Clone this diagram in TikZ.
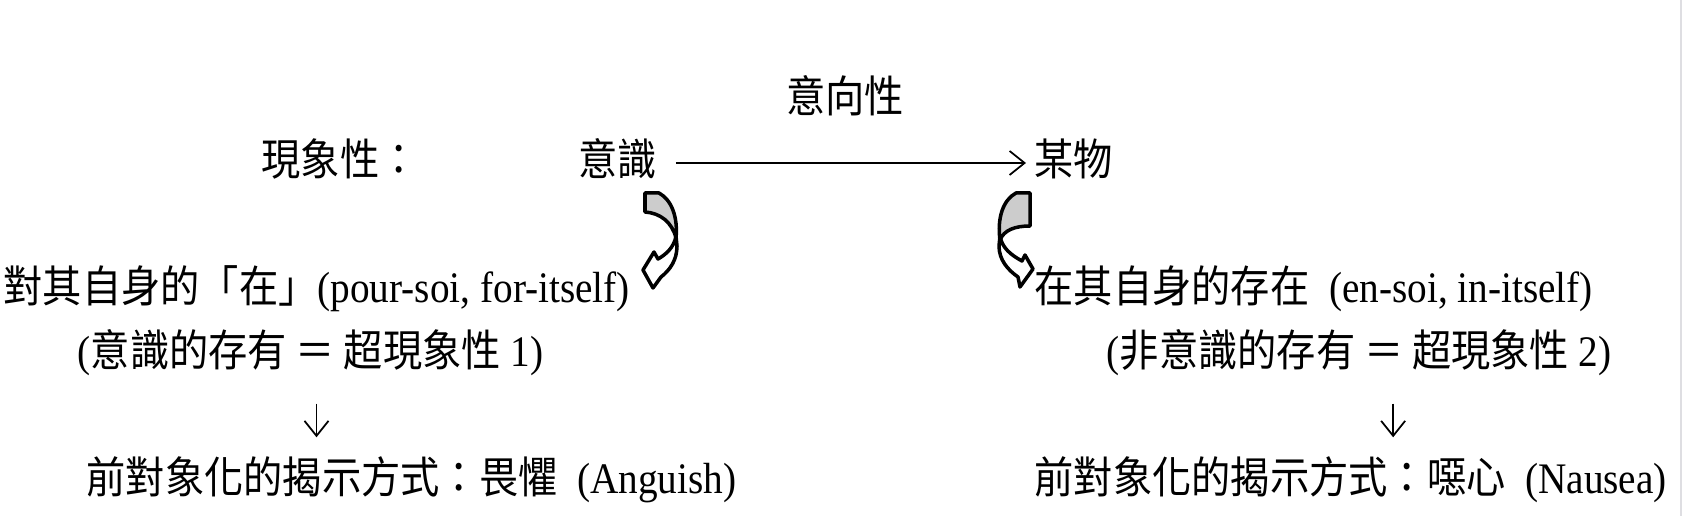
\documentclass[tikz,border=0pt]{standalone}
\usepackage{fontspec}
\setmainfont{Liberation Serif}[FakeStretch=0.9]
\newfontfamily\zhfont{Noto Sans CJK TC}[FakeStretch=0.9]
\newcommand{\zh}[1]{{\zhfont #1}}
\usepackage{xcolor}
\usepackage{tikz}
\usetikzlibrary{arrows.meta,positioning}
\definecolor{facegray}{RGB}{204,204,204}
\definecolor{edgegray}{RGB}{222,222,226}
\tikzset{
  >={Straight Barb[length=1.5mm,width=2.4mm]},
  font=\fontsize{12.4}{14}\selectfont,
  txt/.style={inner sep=0pt, anchor=west, text height=10pt, text depth=2.8pt},
  % arrow "lanes"
  intent/.style={->, line width=0.5pt},
  downflow/.style={->, line width=0.5pt},
  twistface/.style={fill=facegray, draw=black, line width=1pt, line join=round},
  twistback/.style={fill=white, draw=black, line width=1pt, line join=round},
}

\begin{document}
\begin{tikzpicture}[x=0.01cm, y=-0.01cm]
\useasboundingbox (0,0) rectangle (1684,516);

% ---------- top row ----------
\node[txt, anchor=center] (intent) at (845,100) {\zh{意向性}};
\node[txt] (phen)  at (261,163) {\zh{現象性：}};
\node[txt] (consc) at (578,163) {\zh{意識}};
\node[txt] (thing) at (1034,163) {\zh{某物}};

% ---------- two kinds of being ----------
\node[txt] (forself)   at (3,290)    {\zh{對其自身的「在」}(pour-soi, for-itself)};
\node[txt] (initself)  at (1034,290) {\zh{在其自身的存在}\ \ (en-soi, in-itself)};
\node[txt] (consbeing) at (77,354)   {(\zh{意識的存有 ＝ 超現象性} 1)};
\node[txt] (nonbeing)  at (1106,354) {(\zh{非意識的存有 ＝ 超現象性} 2)};

% ---------- modes of disclosure ----------
\node[txt] (anguish) at (86,481)   {\zh{前對象化的揭示方式：畏懼}\ \ (Anguish)};
\node[txt] (nausea)  at (1034,481) {\zh{前對象化的揭示方式：噁心}\ \ (Nausea)};

% ---------- connectors ----------
\draw[intent, shorten <=0.18cm, shorten >=0.08cm] (consc.east) -- (thing.west);
\draw[downflow, shorten <=0.265cm, shorten >=0.205cm] ([xshift=0.06cm]consbeing.south) -- ([xshift=0.06cm]consbeing.south |- anguish.north);
\draw[downflow, shorten <=0.265cm, shorten >=0.205cm] ([xshift=0.34cm]nonbeing.south) -- ([xshift=0.34cm]nonbeing.south |- nausea.north);

% twisted block arrows (drawn as shapes)
\draw[twistback] (676,236) .. controls (674,248) and (665,255) .. (658,259) -- (654,252) -- (643,270) -- (653,288) -- (661,277) .. controls (670,270) and (677,260) .. (677,246) -- cycle;
\draw[twistface] (645,193) -- (659,193) .. controls (672,200) and (678,218) .. (676,238) .. controls (672,222) and (660,213) .. (645,212) -- cycle;

\draw[twistback] (1000,236) .. controls (1002,248) and (1011,255) .. (1022,261) -- (1025,255) -- (1033,269) -- (1020,287) -- (1018,277) .. controls (1008,270) and (999,260) .. (999,246) -- cycle;
\draw[twistface] (1030,193) -- (1016,193) .. controls (1003,200) and (997,218) .. (1000,240) .. controls (1004,230) and (1015,226) .. (1030,226) -- cycle;

% page edge
\draw[edgegray, line width=0.4pt] (1681,0) -- (1681,516);

\end{tikzpicture}
\end{document}
